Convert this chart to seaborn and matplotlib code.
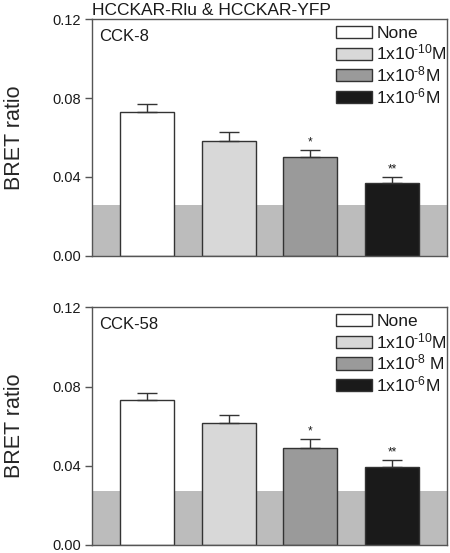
import matplotlib
matplotlib.use('Agg')
import matplotlib.pyplot as plt
import seaborn as sns
import pandas as pd
from matplotlib.patches import Patch

# datos
conc = ['None', '1e-10', '1e-8', '1e-6']
legend_labels = ['None', r'1x10$^{\text{-10}}$M', r'1x10$^{\text{-8}}$M', r'1x10$^{\text{-6}}$M']
legend_labels_58 = ['None', r'1x10$^{\text{-10}}$M', r'1x10$^{\text{-8}}$ M', r'1x10$^{\text{-6}}$M']
cck8_mean = [0.0731, 0.0584, 0.0503, 0.0368]
cck8_sem = [0.0039, 0.0046, 0.0035, 0.0030]
cck58_mean = [0.0731, 0.0618, 0.0491, 0.0394]
cck58_sem = [0.0037, 0.0040, 0.0046, 0.0035]
stars = ['', '', '*', '**']
basal_8 = 0.0258
basal_58 = 0.0271
yticks = [0.00, 0.04, 0.08, 0.12]

colors = ['#ffffff', '#d8d8d8', '#9a9a9a', '#1a1a1a']
edge = '#333333'

sns.set_style('white')
plt.rcParams['font.family'] = ['Liberation Sans', 'DejaVu Sans']
plt.rcParams['mathtext.fontset'] = 'custom'
plt.rcParams['mathtext.rm'] = 'Liberation Sans'
plt.rcParams['mathtext.it'] = 'Liberation Sans'
plt.rcParams['mathtext.default'] = 'rm'
plt.rcParams['text.color'] = '#1a1a1a'

fig = plt.figure(figsize=(4.5, 5.53), dpi=100)
ax1 = fig.add_axes([0.2044, 0.5371, 0.7889, 0.4285])
ax2 = fig.add_axes([0.2044, 0.0145, 0.7889, 0.4298])


def draw_panel(ax, means, sems, basal, name, labels):
    df = pd.DataFrame({'conc': conc, 'ratio': means})
    ax.axhspan(0, basal, color='#bcbcbc', zorder=0, lw=0)
    sns.barplot(data=df, x='conc', y='ratio', hue='conc', palette=colors,
                order=conc, hue_order=conc, width=0.66, legend=False,
                edgecolor=edge, linewidth=1.0, ax=ax, zorder=2)
    x = range(len(conc))
    ax.errorbar(x, means, yerr=[[0] * len(sems), sems], fmt='none',
                ecolor=edge, elinewidth=1.0, capsize=7, capthick=1.0, zorder=3)
    for i, s in enumerate(stars):
        if s:
            ax.text(i, means[i] + sems[i] + 0.0008, s, ha='center', va='bottom',
                    fontsize=8.5)
    ax.set_xlim(-0.67, 3.67)
    ax.set_ylim(0, 0.12)
    ax.set_yticks(yticks)
    ax.set_yticklabels([f'{t:.2f}' for t in yticks])
    ax.set_xticks([])
    ax.set_xlabel('')
    ax.set_ylabel('BRET ratio', fontsize=15.5)
    ax.yaxis.set_label_coords(-0.19, 0.5)
    ax.tick_params(axis='y', direction='out', length=5, width=1, color='#555555',
                   labelsize=10.5, labelcolor='#1a1a1a', pad=3, left=True)
    for sp in ax.spines.values():
        sp.set_color('#555555')
        sp.set_linewidth(1.0)
        sp.set_visible(True)
    ax.text(0.02, 0.96, name, transform=ax.transAxes, fontsize=12,
            ha='left', va='top')
    handles = [Patch(facecolor=c, edgecolor=edge, linewidth=1.0) for c in colors]
    ax.legend(handles, labels, loc='upper right', bbox_to_anchor=(1.03, 1.015),
              frameon=False, fontsize=12.5, handlelength=2.1, handleheight=0.7,
              handletextpad=0.25, labelspacing=0.1, borderaxespad=0.2)


draw_panel(ax1, cck8_mean, cck8_sem, basal_8, 'CCK-8', legend_labels)
draw_panel(ax2, cck58_mean, cck58_sem, basal_58, 'CCK-58', legend_labels_58)

fig.text(0.2044, 0.9675, 'HCCKAR-Rlu & HCCKAR-YFP', fontsize=12.5,
         ha='left', va='bottom')

fig.savefig('out.png', dpi=100)
plt.close(fig)
